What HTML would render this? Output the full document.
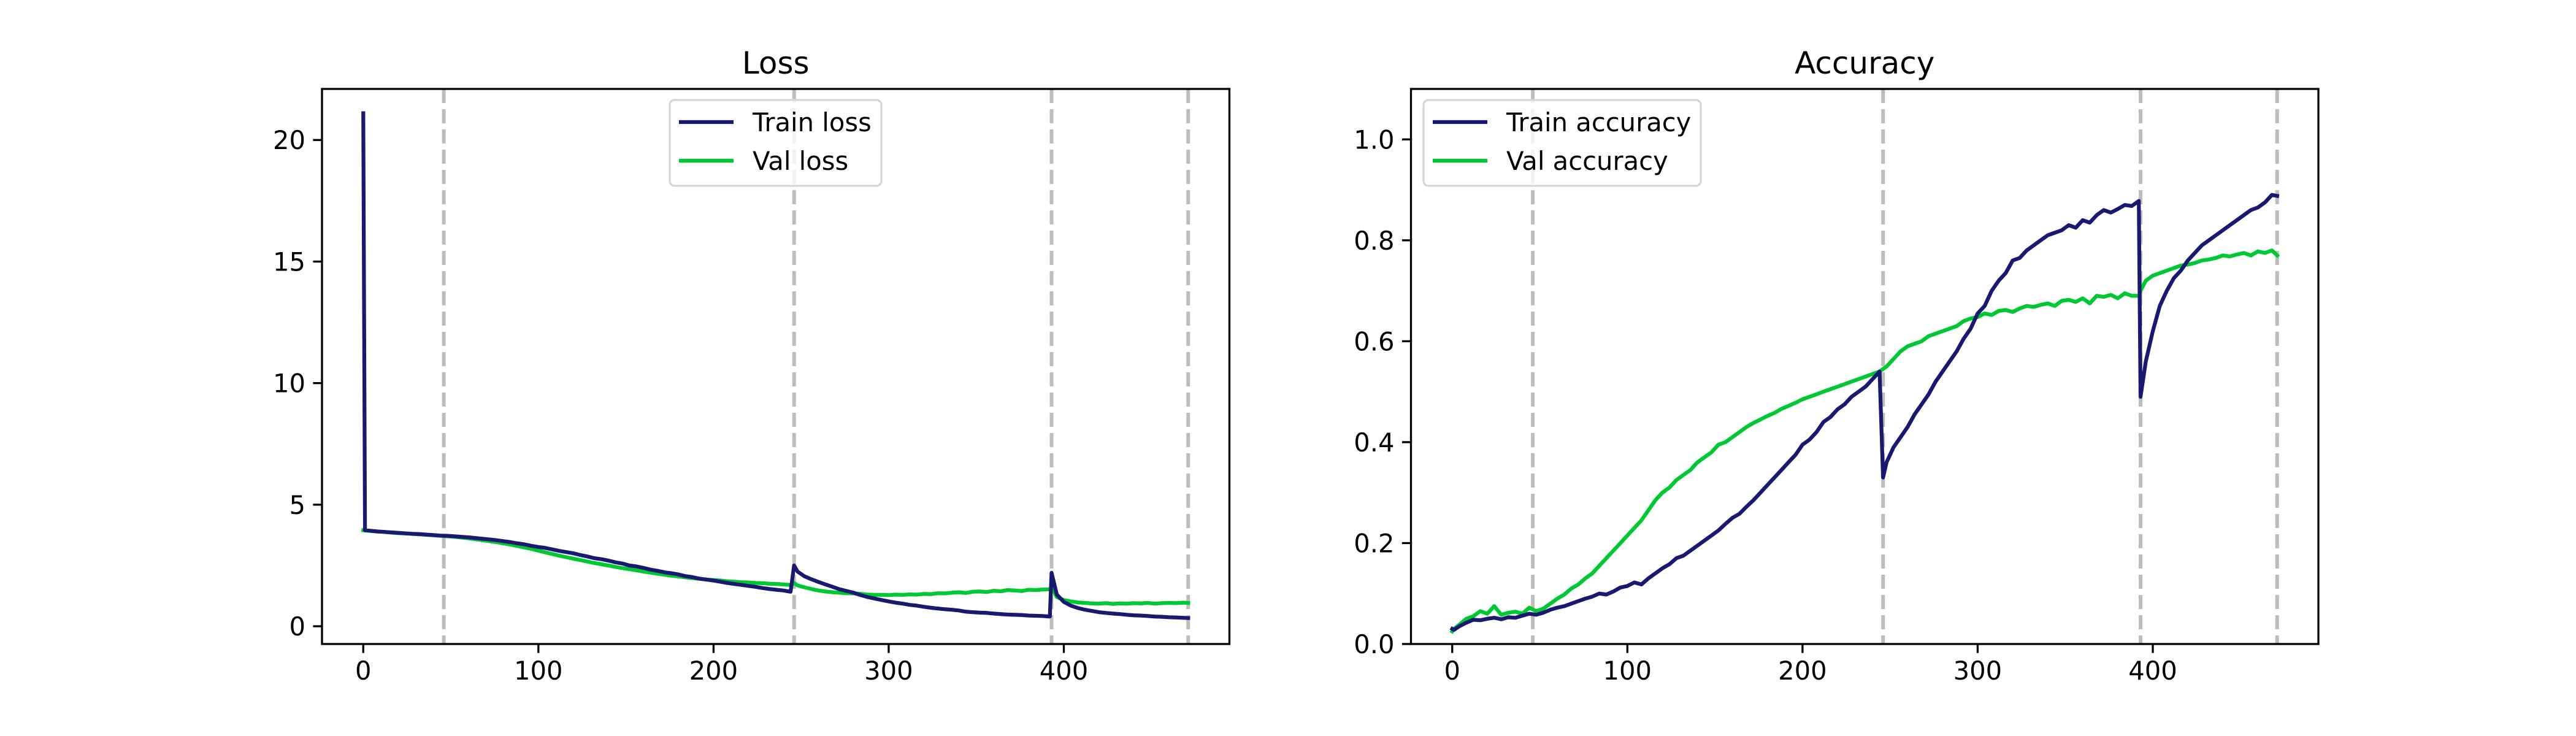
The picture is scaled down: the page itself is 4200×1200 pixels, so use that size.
<!DOCTYPE html>
<html><head><meta charset="utf-8"><style>
html,body{margin:0;padding:0;background:#fff}
svg{display:block}
text{font-family:"DejaVu Sans","Liberation Sans",sans-serif;fill:#000}
</style></head><body>
<svg id="fig" width="4200" height="1200" viewBox="0 0 4200 1200" xmlns="http://www.w3.org/2000/svg"></svg>
<script>
const epochs=[0,1,4,8,12,16,20,24,28,32,
36,40,44,48,52,56,60,64,68,72,
76,80,84,88,92,96,100,104,108,112,
116,120,124,128,132,136,140,144,148,152,
156,160,164,168,172,176,180,184,188,192,
196,200,204,208,212,216,220,224,228,232,
236,240,244,246,248,252,256,260,264,268,
272,276,280,284,288,292,296,300,304,308,
312,316,320,324,328,332,336,340,344,348,
352,356,360,364,368,372,376,380,384,388,
392,393,396,400,404,408,412,416,420,424,
428,432,436,440,444,448,452,456,460,464,
468,471];
const trainLoss=[21.1,3.95,3.93,3.9,3.88,3.86,3.84,3.82,3.8,3.79,
3.77,3.75,3.73,3.72,3.70,3.68,3.66,3.63,3.60,3.57,
3.54,3.50,3.46,3.41,3.37,3.31,3.26,3.22,3.16,3.10,
3.05,3.00,2.93,2.87,2.80,2.76,2.70,2.63,2.58,2.50,
2.46,2.40,2.33,2.28,2.22,2.18,2.13,2.06,2.02,1.96,
1.92,1.88,1.83,1.78,1.74,1.70,1.66,1.62,1.57,1.53,
1.50,1.47,1.42,2.50,2.25,2.05,1.93,1.82,1.72,1.62,
1.52,1.45,1.38,1.28,1.20,1.14,1.08,1.02,0.97,0.93,
0.88,0.85,0.80,0.76,0.73,0.70,0.68,0.65,0.60,0.58,
0.56,0.55,0.52,0.50,0.48,0.47,0.46,0.44,0.43,0.42,
0.40,2.20,1.30,1.00,0.85,0.75,0.68,0.63,0.58,0.55,
0.52,0.50,0.47,0.45,0.44,0.42,0.40,0.39,0.37,0.36,
0.35,0.34];
const valLoss=[3.95,3.94,3.92,3.90,3.88,3.85,3.83,3.82,3.80,3.78,
3.76,3.74,3.72,3.70,3.68,3.65,3.62,3.58,3.54,3.50,
3.46,3.41,3.36,3.30,3.24,3.18,3.11,3.04,2.97,2.90,
2.84,2.78,2.72,2.66,2.60,2.55,2.50,2.44,2.39,2.35,
2.30,2.25,2.21,2.16,2.12,2.08,2.05,2.01,1.98,1.95,
1.92,1.90,1.88,1.85,1.83,1.81,1.80,1.78,1.77,1.75,
1.74,1.72,1.70,1.78,1.68,1.60,1.53,1.47,1.43,1.40,
1.38,1.36,1.35,1.33,1.30,1.29,1.29,1.28,1.30,1.29,
1.31,1.30,1.33,1.32,1.36,1.35,1.38,1.40,1.37,1.42,
1.43,1.41,1.46,1.44,1.49,1.47,1.45,1.50,1.49,1.51,
1.52,1.62,1.20,1.08,1.02,0.98,0.96,0.94,0.93,0.95,
0.92,0.94,0.93,0.95,0.94,0.96,0.93,0.95,0.96,0.95,
0.97,0.96];
const trainAcc=[0.030,0.028,0.035,0.042,0.048,0.047,0.050,0.052,0.049,0.053,
0.052,0.056,0.060,0.058,0.062,0.068,0.072,0.075,0.080,0.085,
0.090,0.094,0.100,0.098,0.104,0.112,0.115,0.122,0.118,0.130,
0.140,0.150,0.158,0.170,0.175,0.185,0.195,0.205,0.215,0.225,
0.238,0.250,0.258,0.272,0.285,0.300,0.315,0.330,0.345,0.360,
0.375,0.395,0.405,0.420,0.440,0.450,0.465,0.475,0.490,0.500,
0.510,0.525,0.540,0.330,0.360,0.390,0.410,0.430,0.455,0.475,
0.495,0.520,0.540,0.560,0.580,0.605,0.625,0.655,0.670,0.700,
0.720,0.735,0.760,0.765,0.780,0.790,0.800,0.810,0.815,0.820,
0.830,0.825,0.840,0.835,0.850,0.860,0.855,0.862,0.870,0.868,
0.878,0.490,0.560,0.620,0.670,0.700,0.725,0.740,0.760,0.775,
0.790,0.800,0.810,0.820,0.830,0.840,0.850,0.860,0.865,0.875,
0.890,0.888];
const valAcc=[0.025,0.030,0.038,0.050,0.055,0.065,0.060,0.075,0.058,0.062,
0.064,0.060,0.072,0.065,0.070,0.080,0.090,0.098,0.110,0.118,
0.130,0.140,0.155,0.170,0.185,0.200,0.215,0.230,0.245,0.265,
0.285,0.300,0.310,0.325,0.335,0.345,0.360,0.370,0.380,0.395,
0.400,0.410,0.420,0.430,0.438,0.445,0.452,0.458,0.466,0.472,
0.478,0.485,0.490,0.495,0.500,0.505,0.510,0.515,0.520,0.525,
0.530,0.535,0.540,0.545,0.550,0.565,0.580,0.590,0.595,0.600,
0.610,0.615,0.620,0.625,0.630,0.640,0.645,0.648,0.655,0.652,
0.660,0.662,0.658,0.665,0.670,0.668,0.672,0.675,0.670,0.680,
0.682,0.678,0.685,0.675,0.690,0.688,0.692,0.685,0.695,0.690,
0.690,0.700,0.720,0.730,0.735,0.740,0.745,0.750,0.752,0.755,
0.760,0.762,0.765,0.770,0.768,0.772,0.775,0.770,0.778,0.775,
0.780,0.770];
const phaseBoundaries=[46,246,393,471];
const xTicks=[0,100,200,300,400];
const lossTicks=[0,5,10,15,20];
const accTicks=[0.0,0.2,0.4,0.6,0.8,1.0];
const accTickLabels=["0.0","0.2","0.4","0.6","0.8","1.0"];

const NS="http://www.w3.org/2000/svg";
const svg=document.getElementById('fig');
function el(tag,attrs,parent){const e=document.createElementNS(NS,tag);for(const k in attrs)e.setAttribute(k,attrs[k]);(parent||svg).appendChild(e);return e;}
const TRAIN="#191970",VAL="#00c832";
const TOP=145,BOT=1050;

function drawPanel(cfg){
  const g=el('g',{});
  
  
  const L=cfg.left,R=cfg.right;
  const xs=v=>L+(v-cfg.xmin)/(cfg.xmax-cfg.xmin)*(R-L);
  const ys=v=>BOT-(v-cfg.ymin)/(cfg.ymax-cfg.ymin)*(BOT-TOP);
  phaseBoundaries.forEach(b=>{
    const l=el('line',{x1:xs(b),x2:xs(b),y1:TOP,y2:BOT,stroke:'#bdbdbd','stroke-width':6,'stroke-dasharray':'23,10'},g);
    
    
  });
  const series=[[cfg.train,TRAIN,'train-line'],[cfg.val,VAL,'val-line']];
  series.reverse();
  series.forEach(([arr,col,nm])=>{
    const d=arr.map((v,i)=>(i?'L':'M')+xs(epochs[i]).toFixed(1)+','+ys(v).toFixed(1)).join('');
    const p=el('path',{d:d,fill:'none',stroke:col,'stroke-width':6.25,'stroke-linejoin':'round','stroke-linecap':'square'},g);
    
    
  });
  const fr=el('rect',{x:L,y:TOP,width:R-L,height:BOT-TOP,fill:'none',stroke:'#000','stroke-width':3.3},g);
  
  
  xTicks.forEach(t=>{
    el('line',{x1:xs(t),x2:xs(t),y1:BOT,y2:BOT+14.6,stroke:'#000','stroke-width':3.3},g);
    const tx=el('text',{x:xs(t),y:BOT+58,'font-size':41.7,'text-anchor':'middle'},g);
    tx.textContent=String(t);
    
    
  });
  cfg.yTicks.forEach((t,i)=>{
    el('line',{x1:L-14.6,x2:L,y1:ys(t),y2:ys(t),stroke:'#000','stroke-width':3.3},g);
    const tx=el('text',{x:L-27,y:ys(t)+15,'font-size':41.7,'text-anchor':'end'},g);
    tx.textContent=cfg.yLabels[i];
    
    
  });
  const ti=el('text',{x:(L+R)/2,y:TOP-25,'font-size':50,'text-anchor':'middle'},g);
  ti.textContent=cfg.title;
  
  
  const lg=el('g',{},g);
  
  
  const lx=cfg.legX,ly=163,lw=cfg.legW;
  el('rect',{x:lx,y:ly,width:lw,height:140,rx:8,fill:'#fff','fill-opacity':0.8,stroke:'#d6d6d6','stroke-width':3.3},lg);
  [[TRAIN,cfg.legTrain,199],[VAL,cfg.legVal,262]].forEach(([c,t,yy])=>{
    const e=el('g',{},lg);
    
    
    el('line',{x1:lx+15,x2:lx+104,y1:yy,y2:yy,stroke:c,'stroke-width':6.25},e);
    const tx=el('text',{x:lx+135,y:yy+15,'font-size':41.7},e);
    tx.textContent=t;
  });
}
drawPanel({name:'loss-chart',left:525,right:2004.5,xmin:-23.55,xmax:494.55,ymin:-0.73,ymax:22.1,
  train:trainLoss,val:valLoss,yTicks:lossTicks,yLabels:lossTicks.map(String),title:'Loss',
  legX:1092,legW:345,legTrain:'Train loss',legVal:'Val loss'});
drawPanel({name:'accuracy-chart',left:2300.5,right:3780,xmin:-23.55,xmax:494.55,ymin:0,ymax:1.1,
  train:trainAcc,val:valAcc,yTicks:accTicks,yLabels:accTickLabels,title:'Accuracy',
  legX:2321,legW:452,legTrain:'Train accuracy',legVal:'Val accuracy'});
</script>
</body></html>
